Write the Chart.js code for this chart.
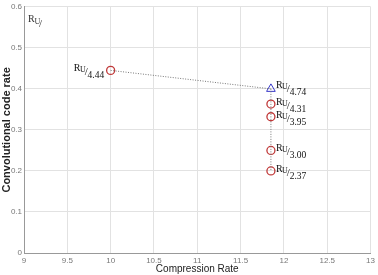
<!DOCTYPE html>
<html>
<head>
<meta charset="utf-8">
<script src="https://cdn.jsdelivr.net/npm/chart.js@4"></script>
<style>
  html, body { margin: 0; padding: 0; background: #fff; }
  #wrap { width: 378px; height: 275px; position: relative; }
</style>
</head>
<body>
<div id="wrap"><canvas id="c"></canvas></div>
<script>
// data
const xTicks = [9, 9.5, 10, 10.5, 11, 11.5, 12, 12.5, 13];
const yTicks = [0, 0.1, 0.2, 0.3, 0.4, 0.5, 0.6];
const circleX = [10, 11.85, 11.85, 11.85, 11.85];
const circleY = [0.445, 0.363, 0.332, 0.25, 0.20];
const circleLabels = ['4.44', '4.31', '3.95', '3.00', '2.37'];
const triX = [11.85];
const triY = [0.40];
const triLabels = ['4.74'];

const pts = (xs, ys) => xs.map((x, i) => ({ x: x, y: ys[i] }));

// draws the R_U/_n labels next to the markers
const labelPlugin = {
    id: 'ruLabels',
    afterDatasetsDraw(chart) {
        const ctx = chart.ctx;
        const drawLabel = (px, py, num, alignRight) => {
            ctx.save();
            ctx.fillStyle = '#111';
            ctx.textBaseline = 'alphabetic';
            ctx.font = '10px "Liberation Serif"';
            const wR = ctx.measureText('R').width;
            ctx.font = '8px "Liberation Serif"';
            const wU = ctx.measureText('U').width;
            ctx.font = '11px "Liberation Serif"';
            const wS = ctx.measureText('/').width;
            ctx.font = '9.5px "Liberation Serif"';
            const wN = ctx.measureText(num).width;
            const total = wR + wU + wS * 0.6 + wN;
            let x = alignRight ? px - 6 - total : px + 5;
            ctx.font = '10px "Liberation Serif"';
            ctx.fillText('R', x, py + 1);
            x += wR - 0.5;
            ctx.font = '8px "Liberation Serif"';
            ctx.fillText('U', x, py + 2);
            x += wU - 1;
            ctx.font = '11px "Liberation Serif"';
            ctx.fillText('/', x, py + 5);
            x += wS * 0.6 + 1;
            ctx.font = '9.5px "Liberation Serif"';
            ctx.fillText(num, x, py + 8);
            ctx.restore();
        };
        const xs = chart.scales.x, ys = chart.scales.y;
        circleX.forEach((v, i) => {
            drawLabel(xs.getPixelForValue(v), ys.getPixelForValue(circleY[i]), circleLabels[i], i === 0);
        });
        triX.forEach((v, i) => {
            drawLabel(xs.getPixelForValue(v), ys.getPixelForValue(triY[i]) - 2, triLabels[i], false);
        });
        // legend-like "R_U" in the corner
        ctx.save();
        ctx.fillStyle = '#333';
        ctx.font = '10px "Liberation Serif"';
        const a = chart.chartArea;
        ctx.fillText('R', a.left + 4, a.top + 15);
        ctx.font = '8px "Liberation Serif"';
        ctx.fillText('U', a.left + 10.5, a.top + 17);
        ctx.font = '11px "Liberation Serif"';
        ctx.fillText('/', a.left + 15, a.top + 20);
        ctx.restore();
    }
};

new Chart(document.getElementById('c').getContext('2d'), {
    type: 'scatter',
    data: {
        datasets: [
            {
                data: [{ x: circleX[0], y: circleY[0] }, { x: triX[0], y: triY[0] }],
                showLine: true,
                borderColor: '#777',
                borderWidth: 1,
                borderDash: [1, 1.5],
                pointRadius: 0
            },
            {
                data: [{ x: triX[0], y: triY[0] }, { x: circleX[circleX.length - 1], y: circleY[circleY.length - 1] }],
                showLine: true,
                borderColor: '#777',
                borderWidth: 1,
                borderDash: [1, 1.5],
                pointRadius: 0
            },
            {
                data: pts(circleX, circleY),
                pointStyle: 'circle',
                pointRadius: 4,
                pointBorderColor: '#c03838',
                pointBackgroundColor: 'rgba(0,0,0,0)',
                pointBorderWidth: 1.3
            },
            {
                data: pts(triX, triY),
                pointStyle: 'triangle',
                pointRadius: 5,
                pointBorderColor: '#3838c8',
                pointBackgroundColor: 'rgba(0,0,0,0)',
                pointBorderWidth: 1
            }
        ]
    },
    options: {
        responsive: true,
        maintainAspectRatio: false,
        animation: false,
        layout: { padding: { top: 5, right: 4, left: 0, bottom: 0 } },
        plugins: { legend: { display: false }, tooltip: { enabled: false } },
        scales: {
            x: {
                type: 'linear',
                min: 9, max: 13,
                afterBuildTicks: s => { s.ticks = xTicks.map(v => ({ value: v })); },
                afterFit: s => { s.height = 22; },
                grid: { color: '#e2e2e2', drawTicks: false },
                border: { color: '#999' },
                ticks: {
                    color: '#777', padding: 3,
                    font: { family: 'Liberation Sans', size: 8 },
                    callback: v => String(v)
                },
                title: {
                    display: true, text: 'Compression Rate', color: '#222',
                    padding: { top: -2, bottom: 0 },
                    font: { family: 'Liberation Sans', size: 10 }
                }
            },
            y: {
                min: 0, max: 0.6,
                afterBuildTicks: s => { s.ticks = yTicks.map(v => ({ value: v })); },
                afterFit: s => { s.width = 24; },
                grid: { color: '#e2e2e2', drawTicks: false },
                border: { color: '#999' },
                ticks: {
                    color: '#777', padding: 2,
                    font: { family: 'Liberation Sans', size: 8 },
                    callback: v => String(v)
                },
                title: {
                    display: true, text: 'Convolutional code rate', color: '#222',
                    padding: { top: 0, bottom: 0 },
                    font: { family: 'Liberation Sans', size: 11, weight: 'bold' }
                }
            }
        }
    },
    plugins: [labelPlugin]
});
</script>
</body>
</html>
